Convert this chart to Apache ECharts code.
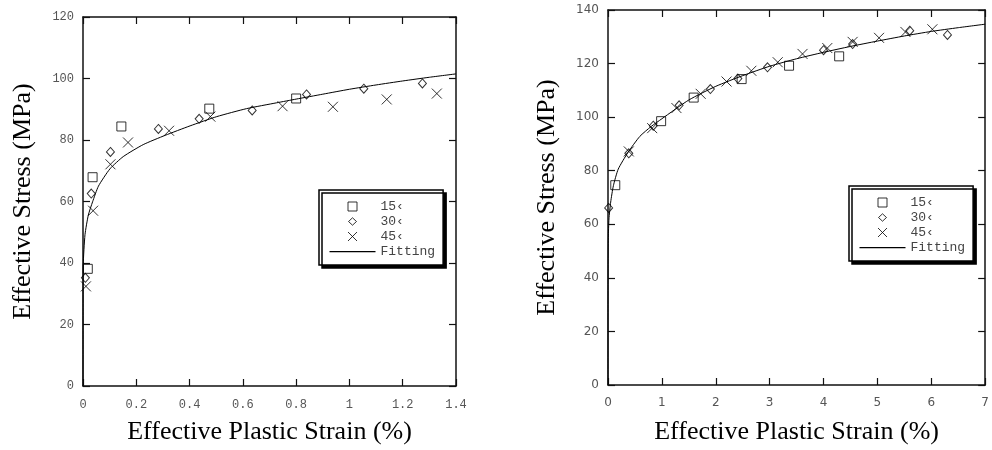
<!DOCTYPE html>
<html>
<head>
<meta charset="utf-8">
<script src="https://cdn.jsdelivr.net/npm/echarts@6/dist/echarts.min.js"></script>
<style>
  html, body { margin: 0; padding: 0; background: #fff; }
  #main { width: 992px; height: 450px; }
</style>
</head>
<body>
<div id="main"></div>
<script>
// series names (legend)
var names = ['15‹', '30‹', '45‹', 'Fitting'];

// left chart: [strain %, stress MPa]
var left15 = [[0.018, 38.1], [0.036, 67.9], [0.144, 84.4], [0.474, 90.2], [0.80, 93.5]];
var left30 = [[0.009, 35.2], [0.031, 62.6], [0.103, 76.1], [0.283, 83.6], [0.436, 86.9],
              [0.635, 89.6], [0.839, 94.8], [1.054, 96.7], [1.274, 98.4]];
var left45 = [[0.011, 32.4], [0.038, 57.0], [0.103, 72.1], [0.169, 79.2], [0.323, 83.0],
              [0.478, 87.6], [0.749, 91.0], [0.938, 90.8], [1.14, 93.2], [1.328, 95.1]];
var leftFit = [[0, 0], [0.0002, 20], [0.001, 39.5], [0.0075, 49.2], [0.02, 55.6], [0.036, 59.9],
               [0.058, 65.0], [0.101, 70.6], [0.151, 74.6], [0.226, 78.5], [0.308, 81.5],
               [0.402, 84.6], [0.502, 87.6], [0.614, 90.2], [0.727, 92.1], [0.8, 93.3],
               [0.9, 94.9], [1.0, 96.5], [1.1, 97.9], [1.2, 99.2], [1.3, 100.4], [1.4, 101.5]];

// right chart
var right15 = [[0.135, 74.6], [0.986, 98.5], [1.59, 107.3], [2.48, 114.2], [3.36, 119.2], [4.29, 122.7]];
var right30 = [[0.012, 66.1], [0.386, 86.5], [0.84, 96.8], [1.32, 104.4], [1.90, 110.5], [2.41, 114.4],
               [2.96, 118.6], [4.00, 125.0], [4.54, 127.3], [5.60, 132.3], [6.30, 130.7]];
var right45 = [[0.386, 87.2], [0.82, 95.9], [1.27, 103.4], [1.72, 108.7], [2.20, 113.3], [2.66, 117.3],
               [3.15, 120.5], [3.61, 123.6], [4.07, 125.8], [4.54, 128.1], [5.03, 129.6], [5.52, 131.8],
               [6.02, 132.8]];
var rightFit = [[0, 0], [0.0004, 30], [0.002, 45], [0.006, 55], [0.018, 62], [0.05, 68.3], [0.1, 74.4],
                [0.19, 80.6], [0.37, 86.8], [0.59, 92.8], [0.8, 96.5], [1, 99.4], [1.5, 106.4],
                [2, 111.5], [2.5, 115.5], [3, 119.0], [3.5, 121.8], [4, 124.2], [4.5, 126.4],
                [5, 128.4], [5.5, 130.3], [6, 132.0], [6.5, 133.4], [7, 134.7]];

// marker shapes; legend icons carry an invisible 46x9 frame so they are not stretched
var crossPath = 'path://M0,0L10,10M10,0L0,10';
var legendIcons = [
    'path://M0,0M46,9M18.5,0L27.5,0L27.5,9L18.5,9Z',
    'path://M0,0M46,9M23,0.8L27,4.5L23,8.2L19,4.5Z',
    'path://M0,0M46,9M18.5,0L27.5,9M27.5,0L18.5,9',
    'path://M0,0M46,9M0,4L46,4L46,5.2L0,5.2Z'
];
var serif = 'Liberation Serif';

function mainAxis(pos, grid, min, max, interval, font, gap, nameGap, name) {
    return {
        type: 'value', gridIndex: grid, position: pos, min: min, max: max, interval: interval,
        name: name, nameLocation: 'middle', nameGap: nameGap,
        nameTextStyle: { fontFamily: serif, fontSize: 26, color: '#000' },
        axisLine: { show: true, lineStyle: { color: '#111', width: 1.5 } },
        axisTick: { show: true, inside: true, length: 7, lineStyle: { color: '#111', width: 1.2 } },
        axisLabel: { color: '#555', fontFamily: font, fontSize: 12, margin: gap },
        splitLine: { show: false }
    };
}
function mirrorAxis(pos, grid, min, max, interval) {
    return {
        type: 'value', gridIndex: grid, position: pos, min: min, max: max, interval: interval,
        axisLine: { show: true, onZero: false, lineStyle: { color: '#111', width: 1.5 } },
        axisTick: { show: true, inside: true, length: 7, lineStyle: { color: '#111', width: 1.2 } },
        axisLabel: { show: false },
        splitLine: { show: false }
    };
}
function markers(grid, d15, d30, d45, fit) {
    var st = { color: 'rgba(0,0,0,0)', borderColor: '#000', borderWidth: 1 };
    return [
        { name: names[0], type: 'scatter', xAxisIndex: grid * 2, yAxisIndex: grid * 2,
          symbol: 'rect', symbolSize: 9, itemStyle: st, data: d15 },
        { name: names[1], type: 'scatter', xAxisIndex: grid * 2, yAxisIndex: grid * 2,
          symbol: 'diamond', symbolSize: [8, 9], itemStyle: st, data: d30 },
        { name: names[2], type: 'scatter', xAxisIndex: grid * 2, yAxisIndex: grid * 2,
          symbol: crossPath, symbolSize: 10, itemStyle: st, data: d45 },
        { name: names[3], type: 'line', xAxisIndex: grid * 2, yAxisIndex: grid * 2,
          showSymbol: false, symbol: 'none', smooth: 0.2,
          lineStyle: { color: '#000', width: 1 }, itemStyle: { color: '#000' }, data: fit }
    ];
}
function legendBox(left, top) {
    var hollow = { color: 'rgba(0,0,0,0)', borderColor: '#000', borderWidth: 1 };
    return {
        data: [
            { name: names[0], icon: legendIcons[0], itemStyle: hollow },
            { name: names[1], icon: legendIcons[1], itemStyle: hollow },
            { name: names[2], icon: legendIcons[2], itemStyle: hollow },
            { name: names[3], icon: legendIcons[3], itemStyle: { color: '#000', borderWidth: 0 } }
        ],
        orient: 'vertical', left: left, top: top,
        itemWidth: 46, itemHeight: 9, itemGap: 2,
        padding: [10, 8, 7, 10],
        backgroundColor: '#fff', borderColor: '#000', borderWidth: 1.5,
        shadowColor: '#000', shadowBlur: 0, shadowOffsetX: 3, shadowOffsetY: 3,
        selectedMode: false,
        textStyle: { fontFamily: 'Liberation Mono', fontSize: 13, color: '#444' }
    };
}

var chart = echarts.init(document.getElementById('main'));
var option = {
    animation: false,
    backgroundColor: '#fff',
    grid: [
        { left: 83, top: 17, width: 373, height: 372 },
        { left: 608, top: 10, width: 381, height: 378 }
    ],
    xAxis: [
        mainAxis('bottom', 0, 0, 1.4, 0.2, 'Liberation Mono', 13, 33, 'Effective Plastic Strain (%)'),
        mirrorAxis('top', 0, 0, 1.4, 0.2),
        mainAxis('bottom', 1, 0, 7, 1, 'DejaVu Sans', 12, 34, 'Effective Plastic Strain (%)'),
        mirrorAxis('top', 1, 0, 7, 1)
    ],
    yAxis: [
        mainAxis('left', 0, 0, 120, 20, 'Liberation Mono', 9, 47, 'Effective Stress (MPa)'),
        mirrorAxis('right', 0, 0, 120, 20),
        mainAxis('left', 1, 0, 140, 20, 'DejaVu Sans', 9, 48, 'Effective Stress (MPa)'),
        mirrorAxis('right', 1, 0, 140, 20)
    ],
    legend: [legendBox(319, 190), legendBox(849, 186)],
    series: markers(0, left15, left30, left45, leftFit).concat(markers(1, right15, right30, right45, rightFit))
};
chart.setOption(option);
</script>
</body>
</html>
